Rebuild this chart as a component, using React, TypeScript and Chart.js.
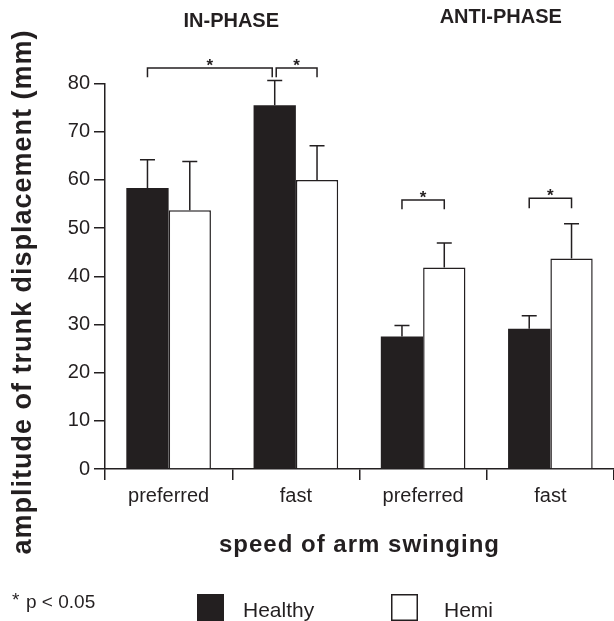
import React, { useEffect, useRef } from "react";
import { Chart, registerables } from "chart.js";

Chart.register(...registerables);

const categories = ["preferred", "fast", "preferred", "fast"];
const healthy = [58.3, 75.5, 27.5, 29.1];
const healthyErr = [5.9, 5.1, 2.3, 2.7];
const hemi = [53.7, 60.0, 41.8, 43.7];
const hemiErr = [10.1, 7.1, 5.1, 7.2];
const yTicks = [0, 10, 20, 30, 40, 50, 60, 70, 80];
const phaseTitles = ["IN-PHASE", "ANTI-PHASE"];
// brackets: [category, dataset] -> [category, dataset], bar height, leg bottom
const bracketFrom = [[0, 0], [1, 0], [2, 0], [3, 0]];
const bracketTo = [[1, 0], [1, 1], [2, 1], [3, 1]];
const bracketTop = [83.2, 83.2, 55.8, 56.2];
const bracketLeg = [81.3, 81.3, 53.9, 54.1];

const INK = "#231f20";
const FONT = "'Liberation Sans', Arial, Helvetica, sans-serif";

const overlay = {
  id: "overlay",
  afterDraw(chart: any) {
    const ctx = chart.ctx;
    const ys = chart.scales.y;
    const area = chart.chartArea;
    ctx.save();
    ctx.strokeStyle = INK;
    ctx.fillStyle = INK;
    ctx.lineWidth = 1.5;
    ctx.lineCap = "butt";

    // error bars (upper only)
    const errs = [healthyErr, hemiErr];
    const vals = [healthy, hemi];
    [0, 1].forEach((di) => {
      const meta = chart.getDatasetMeta(di);
      meta.data.forEach((bar: any, i: number) => {
        const x = bar.x;
        const yTop = ys.getPixelForValue(vals[di][i]);
        const yErr = ys.getPixelForValue(vals[di][i] + errs[di][i]);
        ctx.beginPath();
        ctx.moveTo(x, yTop);
        ctx.lineTo(x, yErr);
        ctx.moveTo(x - 7.5, yErr);
        ctx.lineTo(x + 7.5, yErr);
        ctx.stroke();
      });
    });

    // significance brackets
    const barX = (c: number, d: number) => chart.getDatasetMeta(d).data[c].x;
    bracketFrom.forEach((f, k) => {
      const t = bracketTo[k];
      let x1 = barX(f[0], f[1]);
      let x2 = barX(t[0], t[1]);
      if (k === 0) x2 -= 2.5;
      if (k === 1) x1 += 1.5;
      const yT = ys.getPixelForValue(bracketTop[k]);
      const yL = ys.getPixelForValue(bracketLeg[k]);
      ctx.beginPath();
      ctx.moveTo(x1, yL);
      ctx.lineTo(x1, yT);
      ctx.lineTo(x2, yT);
      ctx.lineTo(x2, yL);
      ctx.stroke();
      ctx.font = `bold 17px ${FONT}`;
      ctx.textAlign = "center";
      ctx.textBaseline = "alphabetic";
      ctx.fillText("*", (x1 + x2) / 2, yT + 3);
    });

    // phase titles
    const xs = chart.scales.x;
    const cw = (xs.right - xs.left) / categories.length;
    ctx.font = `bold 20px ${FONT}`;
    ctx.textAlign = "center";
    ctx.textBaseline = "alphabetic";
    ctx.fillText(phaseTitles[0], xs.left + cw * 1 - 1, 27);
    ctx.fillText(phaseTitles[1], xs.left + cw * 3 + 14, 23);

    // axis titles
    (ctx as any).letterSpacing = "1px";
    ctx.font = `bold 24px ${FONT}`;
    ctx.fillText("speed of arm swinging", (area.left + area.right) / 2, 552);
    ctx.save();
    ctx.translate(31, 292);
    ctx.rotate(-Math.PI / 2);
    ctx.font = `bold 27px ${FONT}`;
    ctx.fillText("amplitude of trunk displacement (mm)", 0, 0);
    ctx.restore();
    (ctx as any).letterSpacing = "0px";

    // note
    ctx.font = `19px ${FONT}`;
    ctx.textAlign = "left";
    ctx.fillText("*", 12, 606);
    ctx.fillText("p < 0.05", 26, 608);

    // legend
    const ds = chart.data.datasets;
    const boxes = [197, 391];
    const texts = [243, 444];
    ds.forEach((d: any, i: number) => {
      ctx.fillStyle = d.backgroundColor;
      ctx.fillRect(boxes[i], 594, 27, 27);
      if (d.borderWidth) {
        ctx.strokeStyle = INK;
        ctx.lineWidth = 1.5;
        ctx.strokeRect(boxes[i] + 0.75, 594.75, 25.5, 25.5);
      }
      ctx.fillStyle = INK;
      ctx.font = `21px ${FONT}`;
      ctx.fillText(d.label, texts[i], 617);
    });
    ctx.restore();
  },
};

export default function App() {
  const ref = useRef<HTMLCanvasElement>(null);
  useEffect(() => {
    const chart = new Chart(ref.current!, {
      type: "bar",
      data: {
        labels: categories,
        datasets: [
          {
            label: "Healthy",
            data: healthy,
            backgroundColor: INK,
            borderColor: INK,
            borderWidth: 0,
            barPercentage: 1,
            categoryPercentage: 0.665,
          },
          {
            label: "Hemi",
            data: hemi,
            backgroundColor: "#ffffff",
            borderColor: INK,
            borderWidth: 1.5,
            barPercentage: 1,
            categoryPercentage: 0.665,
          },
        ],
      },
      options: {
        animation: false,
        responsive: false,
        devicePixelRatio: 1,
        layout: { padding: { top: 83.5, right: -4, bottom: 0, left: 0 } },
        plugins: { legend: { display: false }, tooltip: { enabled: false } },
        scales: {
          x: {
            afterFit: (s: any) => {
              s.height = 152;
            },
            grid: {
              offset: true,
              drawOnChartArea: false,
              drawTicks: true,
              tickLength: 11,
              color: INK,
              lineWidth: 1.5,
            },
            border: { display: true, color: INK, width: 1.5 },
            ticks: { color: INK, font: { size: 20, family: FONT }, padding: 4 },
          },
          y: {
            min: 0,
            max: 80,
            afterFit: (s: any) => {
              s.width = 105;
            },
            afterBuildTicks: (s: any) => {
              s.ticks = yTicks.map((v) => ({ value: v }));
            },
            grid: {
              drawOnChartArea: false,
              drawTicks: true,
              tickLength: 11,
              color: INK,
              lineWidth: 1.5,
            },
            border: { display: true, color: INK, width: 1.5 },
            ticks: { color: INK, font: { size: 20, family: FONT }, padding: 4 },
          },
        },
      },
      plugins: [overlay],
    });
    return () => chart.destroy();
  }, []);
  return (
    <div style={{ position: "fixed", left: 0, top: 0, width: 614, height: 621, background: "#fff" }}>
      <canvas ref={ref} width={614} height={621} style={{ display: "block" }} />
    </div>
  );
}
